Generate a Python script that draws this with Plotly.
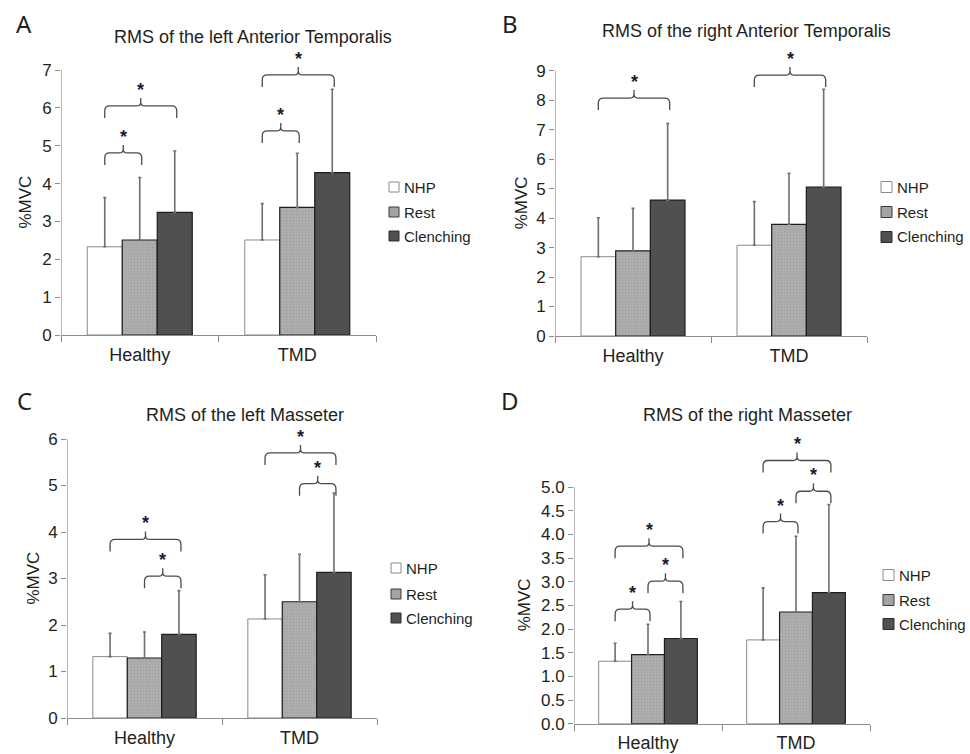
import plotly.graph_objects as go

# ---------------- data ----------------
categories = ["Healthy", "TMD"]
series_names = ["NHP", "Rest", "Clenching"]

# Panel A: RMS of the left Anterior Temporalis (%MVC)
A_nhp = [2.33, 2.51]
A_rest = [2.51, 3.37]
A_clench = [3.24, 4.29]
A_nhp_sd = [1.30, 0.96]
A_rest_sd = [1.65, 1.43]
A_clench_sd = [1.62, 2.20]

# Panel B: RMS of the right Anterior Temporalis
B_nhp = [2.69, 3.08]
B_rest = [2.89, 3.79]
B_clench = [4.61, 5.05]
B_nhp_sd = [1.32, 1.48]
B_rest_sd = [1.44, 1.73]
B_clench_sd = [2.60, 3.32]

# Panel C: RMS of the left Masseter
C_nhp = [1.32, 2.13]
C_rest = [1.29, 2.50]
C_clench = [1.80, 3.13]
C_nhp_sd = [0.50, 0.95]
C_rest_sd = [0.56, 1.02]
C_clench_sd = [0.94, 1.71]

# Panel D: RMS of the right Masseter
D_nhp = [1.32, 1.77]
D_rest = [1.46, 2.36]
D_clench = [1.80, 2.77]
D_nhp_sd = [0.38, 1.10]
D_rest_sd = [0.64, 1.60]
D_clench_sd = [0.78, 1.86]

# significance brackets: (group index, from series, to series, bracket level in %MVC)
A_brackets = [(0, 0, 1, 4.81), (0, 0, 2, 6.05), (1, 0, 1, 5.39), (1, 0, 2, 6.87)]
B_brackets = [(0, 0, 2, 8.07), (1, 0, 2, 8.85)]
C_brackets = [(0, 0, 2, 3.84), (0, 1, 2, 3.05), (1, 0, 2, 5.70), (1, 1, 2, 5.04)]
D_brackets = [(0, 0, 1, 2.42), (0, 1, 2, 3.01), (0, 0, 2, 3.75),
              (1, 0, 1, 4.27), (1, 1, 2, 4.91), (1, 0, 2, 5.56)]

# ---------------- layout config ----------------
W, H = 970, 754
FONT = "Liberation Sans"
AXC = "#8c8c8c"
TXT = "#231f20"

panels = [
    dict(letter="A", title="RMS of the left Anterior Temporalis",
         vals=[A_nhp, A_rest, A_clench], sds=[A_nhp_sd, A_rest_sd, A_clench_sd],
         brackets=A_brackets, x0=61, x1=376, zero=335, top=45, scale=(335 - 70) / 7,
         tickvals=list(range(0, 8)), fmt="d", title_xy=(253, 37), letter_xy=(24, 23),
         legend_x=389, legend_y=[187, 212, 236], legend_sq=10, ytitle_x=25),
    dict(letter="B", title="RMS of the right Anterior Temporalis",
         vals=[B_nhp, B_rest, B_clench], sds=[B_nhp_sd, B_rest_sd, B_clench_sd],
         brackets=B_brackets, x0=555, x1=867, zero=336, top=45, scale=(336 - 70.7) / 9,
         tickvals=list(range(0, 10)), fmt="d", title_xy=(746, 31), letter_xy=(510, 23),
         legend_x=881, legend_y=[187, 212, 237], legend_sq=11, ytitle_x=521),
    dict(letter="C", title="RMS of the left Masseter",
         vals=[C_nhp, C_rest, C_clench], sds=[C_nhp_sd, C_rest_sd, C_clench_sd],
         brackets=C_brackets, x0=67, x1=377, zero=718, top=420, scale=(718 - 439) / 6,
         tickvals=list(range(0, 7)), fmt="d", title_xy=(245, 415), letter_xy=(24, 400),
         legend_x=391, legend_y=[568, 594, 618], legend_sq=10, ytitle_x=33),
    dict(letter="D", title="RMS of the right Masseter",
         vals=[D_nhp, D_rest, D_clench], sds=[D_nhp_sd, D_rest_sd, D_clench_sd],
         brackets=D_brackets, x0=574, x1=870, zero=723.7, top=425, scale=(723.7 - 487) / 5,
         tickvals=[i * 0.5 for i in range(0, 11)], fmt=".1f", title_xy=(747, 415),
         letter_xy=(510, 400), legend_x=883, legend_y=[575, 600, 624], legend_sq=11,
         ytitle_x=524),
]

styles = [
    dict(color="#ffffff", line=dict(color="#8a8a8a", width=1)),
    dict(color="#a8a8a8", line=dict(color="#1e1e1e", width=1.2),
         pattern=dict(shape=".", fgcolor="#939393", bgcolor="#afafaf", size=3, solidity=0.35)),
    dict(color="#505050", line=dict(color="#1e1e1e", width=1.2)),
]
legend_fill = ["#ffffff", "#a3a3a3", "#505050"]
legend_line = ["#8a8a8a", "#3a3a3a", "#2a2a2a"]

BARGAP = 1 / 3
BAR_W = (1 - BARGAP) / 3
x_idx = list(range(len(categories)))

fig = go.Figure()
shapes = []
annotations = []

for p_i, p in enumerate(panels):
    n = "" if p_i == 0 else str(p_i + 1)
    xa, ya = "x" + n, "y" + n
    catw = (p["x1"] - p["x0"]) / 2.0

    def x2px(xd, p=p, catw=catw):
        return p["x0"] + (xd + 0.5) * catw

    def px2x(px, p=p, catw=catw):
        return (px - p["x0"]) / catw - 0.5

    def y2px(yd, p=p):
        return p["zero"] - yd * p["scale"]

    def px2y(py, p=p):
        return (p["zero"] - py) / p["scale"]

    for s_i, name in enumerate(series_names):
        m = dict(styles[s_i])
        fig.add_trace(go.Bar(
            x=x_idx, y=p["vals"][s_i], name=name,
            marker=m, xaxis=xa, yaxis=ya,
            error_y=dict(type="data", symmetric=False, array=p["sds"][s_i],
                         arrayminus=[0] * len(categories), color="#6f6f6f",
                         thickness=1.6, width=1.5),
            showlegend=False,
        ))

    ymax = (p["zero"] - p["top"]) / p["scale"]
    fig.layout[("xaxis" + n)] = dict(
        domain=[p["x0"] / W, p["x1"] / W], range=[-0.5, 1.5], anchor=ya,
        tickvals=x_idx, ticktext=categories, ticks="", showgrid=False, zeroline=False,
        showline=True, linecolor=AXC, linewidth=1.2, automargin=False,
        ticklabelstandoff=3,
        tickfont=dict(family=FONT, size=18, color=TXT),
        minor=dict(ticks="outside", tickvals=[-0.5, 0.5, 1.5], ticklen=6,
                   tickcolor=AXC, tickwidth=1.2),
        fixedrange=True,
    )
    fig.layout[("yaxis" + n)] = dict(
        domain=[1 - p["zero"] / H, 1 - p["top"] / H], range=[0, ymax], anchor=xa,
        tickvals=p["tickvals"], tickformat=p["fmt"], ticks="outside", ticklen=5,
        tickcolor=AXC, tickwidth=1.2, showgrid=False, zeroline=False, showline=False,
        automargin=False,
        tickfont=dict(family=FONT, size=17, color=TXT),
        fixedrange=True,
    )
    # y axis title as rotated text
    annotations.append(dict(x=p["ytitle_x"] / W, y=1 - y2px(p["tickvals"][-1] / 2) / H,
                            xref="paper", yref="paper", text="%MVC", textangle=-90,
                            showarrow=False, xanchor="center", yanchor="middle",
                            font=dict(family=FONT, size=17, color=TXT)))
    # y axis line only up to the last tick
    shapes.append(dict(type="line", xref=xa, yref=ya, x0=-0.5, x1=-0.5,
                       y0=0, y1=p["tickvals"][-1], line=dict(color=AXC, width=1.2)))

    # brackets with asterisks
    for (g, a, b, lvl) in p["brackets"]:
        xl = x2px(g + (a - 1) * BAR_W)
        xr = x2px(g + (b - 1) * BAR_W) + 2
        xm = (xl + xr) / 2
        yt = y2px(lvl)
        yb = yt + 12
        r = 5
        tip = 8
        pts = [
            ("M", [(xl, yb)]),
            ("L", [(xl, yt + r)]),
            ("Q", [(xl, yt), (xl + r, yt)]),
            ("L", [(xm - 4, yt)]),
            ("Q", [(xm, yt), (xm, yt - 4)]),
            ("L", [(xm, yt - tip)]),
            ("M", [(xm, yt - 4)]),
            ("Q", [(xm, yt), (xm + 4, yt)]),
            ("L", [(xr - r, yt)]),
            ("Q", [(xr, yt), (xr, yt + r)]),
            ("L", [(xr, yb)]),
        ]
        path = ""
        for cmd, plist in pts:
            path += cmd + " ".join(f"{px2x(px):.5f},{px2y(py):.5f}" for px, py in plist) + " "
        shapes.append(dict(type="path", xref=xa, yref=ya, path=path.strip(),
                           line=dict(color="#4a4a4a", width=1.3)))
        annotations.append(dict(x=px2x(xm), y=px2y(yt - 16), xref=xa, yref=ya,
                                text="<b>*</b>", showarrow=False, yanchor="middle",
                                font=dict(family=FONT, size=18, color="#1b1b33")))

    # titles and panel letters
    tx, ty = p["title_xy"]
    annotations.append(dict(x=tx / W, y=1 - ty / H, xref="paper", yref="paper",
                            text=p["title"], showarrow=False, xanchor="center",
                            yanchor="middle",
                            font=dict(family=FONT, size=18, color=TXT)))
    lx, ly = p["letter_xy"]
    annotations.append(dict(x=lx / W, y=1 - ly / H, xref="paper", yref="paper",
                            text=p["letter"], showarrow=False, xanchor="center",
                            yanchor="middle",
                            font=dict(family="Noto Sans", size=24, color=TXT)))

    # legend (square swatch + label per series)
    sq = p["legend_sq"]
    for s_i, name in enumerate(series_names):
        cy = p["legend_y"][s_i]
        lx0 = p["legend_x"]
        shapes.append(dict(type="rect", xref="paper", yref="paper",
                           x0=lx0 / W, x1=(lx0 + sq) / W,
                           y0=1 - (cy + sq / 2) / H, y1=1 - (cy - sq / 2) / H,
                           fillcolor=legend_fill[s_i],
                           line=dict(color=legend_line[s_i], width=1)))
        annotations.append(dict(x=(lx0 + sq + 3) / W, y=1 - cy / H, xref="paper",
                                yref="paper", text=name, showarrow=False,
                                xanchor="left", yanchor="middle",
                                font=dict(family=FONT, size=15, color=TXT)))

fig.update_layout(
    width=W, height=H, margin=dict(l=0, r=0, t=0, b=0),
    paper_bgcolor="white", plot_bgcolor="white",
    barmode="group", bargap=BARGAP, bargroupgap=0,
    shapes=shapes, annotations=annotations, showlegend=False,
    font=dict(family=FONT, color=TXT),
)

fig.write_html("out.html", config={"displayModeBar": False},
               post_script="document.body.style.margin='0';"
                           "document.body.style.overflow='hidden';")
